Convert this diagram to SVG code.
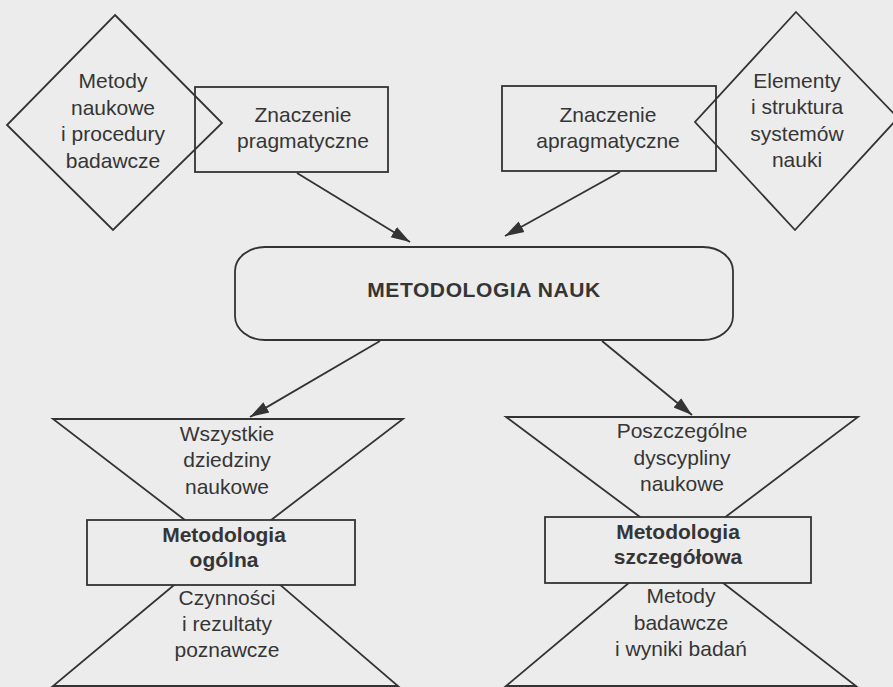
<svg xmlns="http://www.w3.org/2000/svg" width="893" height="687" viewBox="0 0 893 687">
<defs>
<style>
.bg{fill:#ececec}
.sh{fill:none;stroke:#333;stroke-width:1.8;stroke-linejoin:miter}
.box{fill:#ececec;stroke:#333;stroke-width:1.8}
.t{font-family:"Liberation Sans",Arial,sans-serif;font-size:21px;fill:#353535;text-anchor:middle}
.b{font-weight:bold}
.c{fill:none;stroke:#333;stroke-width:1.8}
</style>
<marker id="ah" markerWidth="20" markerHeight="14" refX="19" refY="7" orient="auto" markerUnits="userSpaceOnUse">
<path d="M0,1 L19,7 L0,13 Z" fill="#333"/>
</marker>
</defs>
<rect class="bg" x="0" y="0" width="893" height="687"/>

<g id="node-metody-naukowe">
<polygon class="sh" points="115,15 222,123 113,230 7,125"/>
<text class="t" x="113" y="88">Metody</text>
<text class="t" x="113" y="114.5">naukowe</text>
<text class="t" x="113" y="141">i procedury</text>
<text class="t" x="113" y="167.5">badawcze</text>
</g>

<g id="node-pragmatyczne">
<rect class="sh" x="195" y="87" width="193" height="85"/>
<text class="t" x="303" y="122">Znaczenie</text>
<text class="t" x="303" y="148">pragmatyczne</text>
</g>

<g id="node-apragmatyczne">
<rect class="sh" x="502" y="86" width="214" height="85"/>
<text class="t" x="608" y="122">Znaczenie</text>
<text class="t" x="608" y="148">apragmatyczne</text>
</g>

<g id="node-elementy">
<polygon class="sh" points="796,12 898,118 795,230 695,122"/>
<text class="t" x="797" y="88">Elementy</text>
<text class="t" x="797" y="114">i struktura</text>
<text class="t" x="797" y="141">systemów</text>
<text class="t" x="797" y="167">nauki</text>
</g>

<g id="node-metodologia-nauk">
<rect class="sh" x="235" y="247" width="498" height="93" rx="30" ry="24"/>
<text class="t b" x="484" y="297" style="letter-spacing:0.6px">METODOLOGIA  NAUK</text>
</g>

<g id="node-metodologia-ogolna">
<polygon class="sh" points="53,419 403,419 228,553"/>
<polygon class="sh" points="228,540 53,686 398,686"/>
<rect class="box" x="87" y="520" width="268" height="65"/>
<text class="t" x="227" y="441">Wszystkie</text>
<text class="t" x="227" y="467">dziedziny</text>
<text class="t" x="227" y="494">naukowe</text>
<text class="t b" x="224" y="542">Metodologia</text>
<text class="t b" x="224" y="567">ogólna</text>
<text class="t" x="227" y="605">Czynności</text>
<text class="t" x="227" y="631">i rezultaty</text>
<text class="t" x="227" y="657">poznawcze</text>
</g>

<g id="node-metodologia-szczegolowa">
<polygon class="sh" points="506,417 858,417 683,549"/>
<polygon class="sh" points="674,545 506,686 856,686"/>
<rect class="box" x="545" y="517" width="266" height="66"/>
<text class="t" x="682" y="438">Poszczególne</text>
<text class="t" x="682" y="465">dyscypliny</text>
<text class="t" x="682" y="491">naukowe</text>
<text class="t b" x="678" y="539">Metodologia</text>
<text class="t b" x="678" y="564">szczegółowa</text>
<text class="t" x="681" y="603">Metody</text>
<text class="t" x="681" y="630">badawcze</text>
<text class="t" x="681" y="656">i wyniki badań</text>
</g>

<g id="connectors">
<line class="c" x1="297" y1="173" x2="410" y2="242" marker-end="url(#ah)"/>
<line class="c" x1="620" y1="172" x2="505" y2="236" marker-end="url(#ah)"/>
<line class="c" x1="380" y1="341" x2="250" y2="417" marker-end="url(#ah)"/>
<line class="c" x1="602" y1="341" x2="692" y2="415" marker-end="url(#ah)"/>
</g>
</svg>
